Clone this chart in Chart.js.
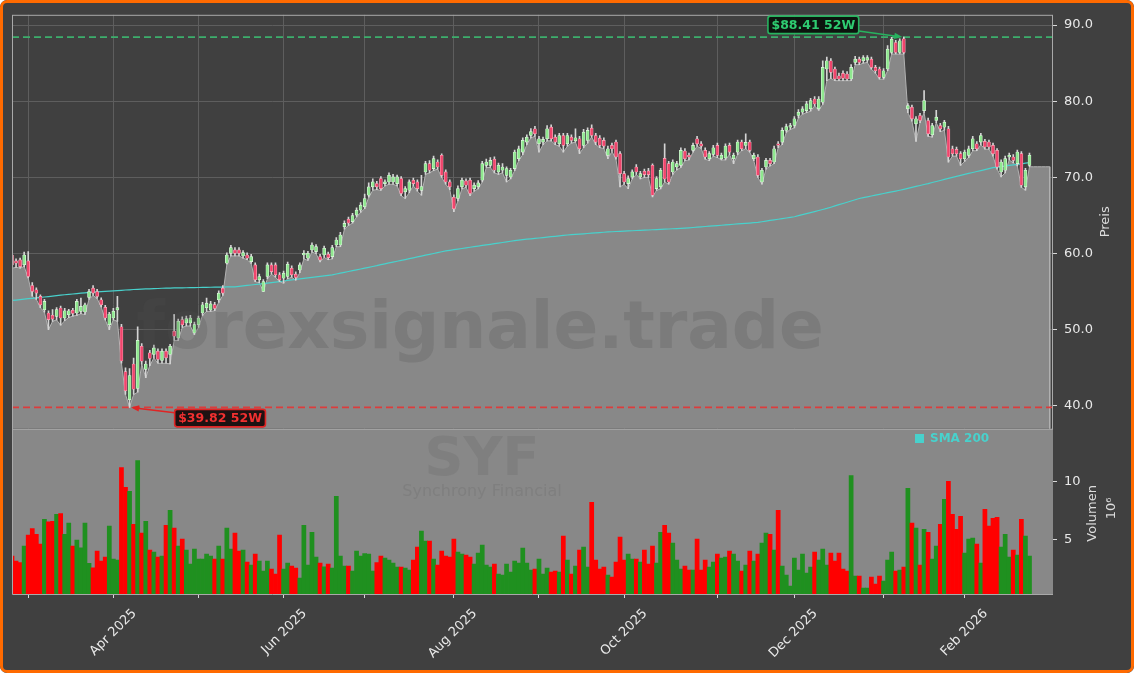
<!DOCTYPE html>
<html>
<head>
<meta charset="utf-8">
<script src="https://cdn.jsdelivr.net/npm/chart.js@4.4.1/dist/chart.umd.min.js"></script>
<style>
html,body{margin:0;padding:0;background:#ffffff;}
#wrap{position:relative;width:1134px;height:673px;background:#404040;border-radius:7px;overflow:hidden;}
#frame{position:absolute;left:0;top:0;width:1134px;height:673px;box-sizing:border-box;border:3px solid #ff6a00;border-radius:7px;pointer-events:none;}
canvas{position:absolute;left:0;top:0;}
</style>
</head>
<body>
<div id="wrap"><canvas id="c" width="1134" height="673"></canvas><div id="frame"></div></div>
<script>
// ---------- data ----------
const firstDate = '2025-02-25';
const holidays = ['2025-04-18','2025-05-26','2025-06-19','2025-07-04','2025-09-01','2025-11-27','2025-12-25','2026-01-01','2026-01-19','2026-02-16'];

const opens = [
59.82,59.04,59.17,58.52,59.04,55.81,55.25,54.38,52.64,52.20,
51.90,51.76,52.85,51.54,51.98,52.55,52.20,52.42,52.33,54.25,
55.47,55.03,53.94,52.94,50.67,51.54,52.60,50.40,44.50,40.80,
45.50,42.30,47.84,44.80,46.97,46.75,47.19,45.97,47.19,46.75,
49.80,48.93,51.33,50.89,50.89,49.58,50.67,52.20,52.90,52.60,
53.30,53.94,55.47,58.73,60.04,60.48,60.48,59.69,59.82,58.95,
58.52,56.56,55.03,56.99,58.52,58.52,57.21,56.77,56.99,58.08,
57.30,57.86,59.82,59.39,60.48,60.26,59.61,59.82,59.91,59.61,
61.13,61.13,63.53,64.50,64.20,65.06,65.71,66.14,67.67,68.76,
69.19,69.85,69.19,69.41,69.41,69.19,69.85,68.11,68.32,69.63,
69.41,68.30,70.72,71.81,71.16,72.03,72.90,70.72,69.41,67.40,
67.23,68.76,69.54,69.63,68.54,68.76,69.63,71.59,71.59,72.38,
70.72,70.94,70.28,70.07,71.16,72.46,73.33,74.64,75.51,76.38,
74.42,74.64,75.08,76.60,75.29,74.42,75.51,74.42,75.29,74.80,
75.08,74.21,74.86,76.47,75.51,75.16,74.86,72.90,74.21,74.64,
73.12,70.50,69.19,70.07,71.37,70.07,70.81,70.85,71.59,68.54,
68.76,72.50,71.81,70.72,71.37,71.59,73.46,72.90,73.55,75.08,
74.42,73.55,72.46,73.03,74.21,72.46,72.55,74.21,72.46,73.33,
74.64,74.20,74.64,72.46,72.68,69.41,71.37,72.24,72.03,74.42,
74.64,76.17,76.60,76.82,78.13,78.56,78.78,79.00,80.30,79.00,
79.87,84.23,85.32,84.23,83.35,83.66,83.57,82.92,85.10,85.53,
85.32,85.40,85.53,84.44,84.23,83.14,84.23,86.41,87.71,86.41,
88.20,79.00,79.22,77.04,78.13,78.78,77.47,75.60,77.47,76.82,
76.60,76.38,73.77,73.68,73.12,72.46,72.90,73.77,74.42,74.64,
74.73,74.64,74.21,73.55,70.72,70.94,72.68,72.68,71.81,73.12,
68.76,71.59];

const highs = [
60.10,59.30,59.40,60.20,60.26,56.20,55.50,54.60,54.00,52.50,
52.64,52.90,53.10,52.80,52.70,52.80,54.00,54.16,53.50,55.30,
55.80,55.30,54.20,53.20,52.30,52.80,54.38,50.70,45.00,44.90,
46.30,50.40,48.20,45.90,47.30,48.00,47.50,47.50,47.50,48.10,
51.98,51.40,51.70,51.80,51.90,51.00,51.80,53.60,54.16,53.72,
53.60,55.10,55.80,60.10,61.10,60.80,60.80,60.40,60.10,59.90,
58.80,57.30,56.60,58.80,58.80,58.80,57.50,57.70,58.90,58.40,
57.60,58.80,60.40,60.30,61.40,61.20,59.90,61.00,60.20,61.10,
62.10,62.80,64.30,64.80,65.30,66.00,66.70,67.80,69.30,69.80,
69.50,70.10,69.70,70.60,70.40,70.30,70.10,68.80,69.70,69.90,
69.70,70.28,72.10,72.20,72.80,72.30,73.10,71.00,69.70,67.70,
68.90,69.90,69.80,69.90,69.30,69.60,72.10,72.40,72.60,72.70,
71.90,71.81,71.40,71.20,73.60,74.10,75.20,75.60,76.40,76.70,
75.40,75.30,76.80,76.90,75.60,75.80,75.80,75.80,75.60,76.38,
75.40,76.30,76.50,76.90,75.80,75.50,75.20,74.10,74.50,74.90,
73.40,70.80,70.20,71.00,71.70,70.80,71.10,71.20,71.80,70.10,
71.20,74.42,72.10,72.30,72.10,73.90,73.80,73.20,74.50,75.40,
74.70,73.90,73.40,74.20,74.50,73.20,74.40,74.50,73.20,74.90,
74.90,75.73,74.90,73.20,73.00,71.20,72.50,72.50,74.10,74.70,
76.50,77.00,77.10,78.00,78.90,79.30,80.00,80.40,80.60,80.60,
85.30,85.80,85.60,84.50,83.70,84.00,83.90,84.80,85.90,85.80,
86.00,86.00,85.80,84.70,84.50,84.30,87.30,88.40,88.00,88.20,
88.41,79.70,79.50,78.00,78.40,81.39,77.80,77.10,78.80,77.10,
77.50,76.70,74.10,74.00,73.40,73.60,74.10,75.40,74.70,75.80,
75.00,74.90,74.50,73.80,72.30,72.80,73.20,73.00,73.60,73.40,
71.20,73.20];

const lows = [
58.08,58.20,58.10,58.30,56.80,54.40,54.00,52.90,52.30,50.02,
51.11,51.30,50.59,51.20,51.60,51.80,51.90,52.10,52.00,54.00,
54.50,54.10,53.00,51.30,50.02,51.30,51.11,45.60,41.50,39.82,
41.50,41.80,45.50,43.70,45.30,46.30,45.60,45.60,45.60,45.53,
48.60,48.60,50.30,50.50,50.50,49.37,50.30,51.90,52.42,52.42,
52.50,53.60,54.50,58.60,59.70,59.70,59.70,59.40,59.20,58.70,
56.30,56.20,55.00,56.70,57.30,56.90,56.30,56.12,56.70,56.90,
56.50,57.50,59.30,59.10,60.20,60.00,58.90,59.50,59.20,59.30,
60.90,60.90,63.20,63.70,64.00,64.80,65.40,65.90,67.40,68.32,
68.40,68.30,68.90,69.10,69.10,68.90,67.60,67.23,68.00,68.90,
68.20,67.67,70.40,70.60,70.90,71.10,70.00,69.10,68.40,65.49,
66.90,68.50,68.70,67.60,68.20,68.50,69.40,71.30,71.30,70.60,
70.40,70.60,69.41,69.80,70.90,72.20,73.00,74.30,75.20,75.40,
73.33,74.30,74.80,74.80,74.30,74.10,73.33,74.10,74.50,74.64,
73.12,73.90,74.50,75.30,74.30,73.90,73.80,72.46,73.40,72.40,
68.76,69.10,68.54,69.80,70.40,69.80,70.00,70.00,67.45,68.30,
68.50,69.41,69.10,70.40,71.00,71.30,72.20,72.30,73.30,74.10,
73.80,72.40,72.20,72.80,72.60,72.30,72.30,73.00,71.81,73.00,
73.50,73.77,73.30,72.20,70.00,69.10,71.10,71.50,71.80,73.90,
74.30,75.90,76.30,76.50,77.80,78.30,78.50,78.70,79.40,78.80,
79.60,82.70,83.00,82.70,82.70,82.70,82.70,82.70,84.80,84.80,
85.00,85.10,84.20,83.70,82.90,82.90,84.00,86.20,86.20,86.20,
86.20,78.50,77.40,74.73,77.20,78.50,75.40,75.30,77.20,76.00,
76.20,72.00,72.80,72.80,71.59,72.10,72.60,73.50,73.50,74.30,
73.70,73.70,72.80,71.10,70.07,70.60,72.30,71.90,71.50,68.70,
68.32,71.40];

const closes = [
58.52,58.73,58.30,59.82,56.99,55.03,54.81,53.29,53.72,51.33,
51.40,52.64,51.54,52.50,52.50,52.15,53.72,53.07,53.29,55.03,
54.81,54.38,53.29,51.54,52.07,52.42,52.90,45.90,42.00,44.00,
42.20,48.60,45.88,45.50,46.23,47.62,46.10,47.19,46.32,47.84,
49.15,51.11,50.67,51.46,51.54,50.67,51.54,53.29,53.50,53.40,
52.80,54.81,54.81,59.82,60.78,60.04,60.04,60.13,59.39,59.61,
56.56,56.99,56.34,58.52,57.64,57.21,56.56,57.43,58.60,57.21,
56.86,58.52,60.04,60.04,61.13,60.91,59.17,60.70,59.48,60.78,
61.78,62.44,63.96,64.00,65.00,65.71,66.36,67.23,68.76,69.41,
68.76,68.54,69.41,70.28,70.07,70.07,67.89,68.54,69.41,69.19,
68.54,68.80,71.81,70.94,72.46,71.37,70.28,69.41,68.76,65.90,
68.54,69.63,68.98,67.89,68.98,69.28,71.81,72.03,72.24,70.94,
71.59,71.37,71.16,70.94,73.33,73.77,74.86,75.29,76.03,75.73,
75.08,74.99,76.38,75.08,74.64,75.51,74.21,75.51,74.86,75.20,
73.77,75.95,76.17,75.51,74.64,74.21,74.12,73.77,73.77,72.68,
70.50,69.41,69.85,70.72,70.72,70.50,70.37,70.37,67.67,69.85,
70.94,69.80,69.41,72.03,71.81,73.55,72.46,72.68,74.21,74.42,
74.12,72.68,73.12,73.90,72.90,72.90,74.12,73.33,72.90,74.64,
73.77,74.60,73.55,72.90,70.28,70.94,72.24,71.81,73.77,74.21,
76.17,76.69,76.82,77.69,78.56,79.00,79.65,80.09,79.65,80.30,
84.44,85.32,83.79,82.92,82.92,83.01,82.92,84.44,85.53,85.10,
85.75,85.75,84.44,84.00,83.14,84.00,86.84,88.15,86.41,87.93,
86.41,79.43,77.69,77.69,77.47,80.09,75.73,76.82,77.91,76.38,
77.25,72.68,73.12,73.12,72.46,73.33,73.77,75.08,73.77,75.51,
73.99,73.99,73.12,71.37,72.03,72.46,72.90,72.24,73.33,68.98,
70.94,72.90];

// volume in millions
const volumes = [
3.57,3.14,3.00,4.42,5.37,5.94,5.45,4.59,6.74,6.51,
6.57,7.17,7.22,5.45,6.40,4.42,4.94,4.28,6.40,2.94,
2.56,3.99,3.14,3.48,6.14,3.31,3.22,11.20,9.48,9.14,
6.31,11.80,5.54,6.57,4.08,3.91,3.48,3.57,6.22,7.51,
5.97,4.42,5.02,4.08,2.88,4.17,3.31,3.31,3.74,3.57,
3.31,4.42,3.31,5.97,4.17,5.54,3.99,4.08,3.05,2.79,
3.74,3.14,2.28,3.14,2.45,2.02,5.37,2.45,2.96,2.71,
2.54,1.68,6.22,2.79,5.62,3.48,2.96,2.65,2.88,2.54,
8.71,3.57,2.71,2.71,2.28,3.99,3.57,3.79,3.74,2.28,
3.00,3.57,3.39,3.22,2.96,2.62,2.62,2.54,2.36,3.22,
4.34,5.71,4.85,4.85,3.31,2.79,3.99,3.57,3.48,5.02,
3.91,3.74,3.65,3.48,2.88,3.82,4.51,2.79,2.62,2.88,
2.02,1.94,2.88,2.19,3.14,2.96,4.25,2.96,2.36,2.45,
3.31,2.02,2.54,2.19,2.28,2.19,5.28,3.22,2.02,2.71,
4.08,4.34,2.62,8.20,3.22,2.45,2.62,1.94,1.76,3.05,
5.20,3.22,3.74,3.31,3.31,3.05,4.08,2.88,4.42,2.96,
5.62,6.22,5.54,4.68,3.22,2.45,2.71,2.36,2.36,5.02,
2.36,3.22,2.62,3.05,3.74,3.39,3.48,3.99,3.74,3.14,
2.28,2.79,3.99,3.14,3.74,4.68,5.54,5.45,4.08,7.51,
2.71,1.94,0.99,3.39,2.36,3.74,2.11,2.62,3.91,3.22,
4.17,2.79,3.82,3.14,3.82,2.45,2.28,10.51,1.85,1.85,
0.82,0.82,1.76,1.16,1.85,1.42,3.22,3.91,2.28,2.36,
2.62,9.40,6.40,5.97,2.79,5.88,5.62,3.31,4.42,6.31,
8.45,10.00,7.17,5.88,6.99,3.82,5.02,5.11,4.59,2.96,
7.60,6.14,6.82,6.91,4.34,5.45,3.48,4.08,3.65,6.74,
5.28,3.57];

const sma200 = [
53.85,53.90,53.96,54.02,54.08,54.13,54.19,54.25,
54.30,54.36,54.42,54.48,54.54,54.60,
54.65,54.70,54.75,54.80,54.85,54.90,54.94,
54.97,55.01,55.04,55.08,55.11,55.15,55.18,55.22,55.25,55.29,
55.31,55.33,55.36,55.38,55.40,55.42,55.45,55.47,
55.48,55.49,55.50,55.51,55.52,55.53,55.54,55.55,
55.56,55.57,55.58,55.59,55.60,55.61,55.62,55.63,55.64,
55.70,55.76,55.82,55.88,55.94,56.00,56.06,56.12,
56.19,56.26,56.33,56.40,56.48,56.55,56.62,56.69,
56.75,56.82,56.88,56.95,57.01,57.08,57.14,57.21,
57.32,57.43,57.54,57.65,57.76,57.87,57.98,58.09,58.20,58.31,58.42,58.55,
58.66,58.78,58.89,59.00,59.11,59.22,59.34,59.45,59.56,59.67,59.79,59.90,60.01,60.12,60.24,60.35,
60.43,60.51,60.59,60.67,60.75,60.83,60.91,60.99,61.07,61.15,61.22,61.30,61.38,61.46,61.54,61.62,61.70,61.78,
61.83,61.89,61.94,62.00,62.05,62.11,62.16,62.22,62.27,62.33,62.38,62.44,
62.48,62.52,62.56,62.60,62.64,62.68,62.72,62.76,62.80,62.84,62.87,
62.90,62.92,62.95,62.98,63.00,63.03,63.05,63.08,63.10,63.13,63.15,63.18,63.21,63.23,63.26,63.28,63.31,
63.35,63.39,63.43,63.48,63.52,63.56,63.60,63.64,63.68,63.72,63.77,63.81,63.85,63.89,63.93,63.97,64.01,64.06,64.10,
64.18,64.26,64.35,64.43,64.51,64.59,64.67,64.76,64.84,
64.98,65.11,65.25,65.38,65.52,65.66,65.79,65.93,
66.09,66.26,66.42,66.58,66.74,66.91,67.07,67.23,
67.34,67.45,67.56,67.67,67.78,67.89,68.00,68.10,68.21,68.32,
68.44,68.57,68.69,68.82,68.94,69.07,69.19,
69.33,69.46,69.60,69.74,69.87,70.01,70.14,70.28,
70.40,70.53,70.65,70.78,70.90,71.03,71.15,71.28,
71.35,71.42,71.50,71.57,71.65,71.72,71.79,71.87,71.94];

const tickLabels = ['', 'Apr 2025', '', 'Jun 2025', '', 'Aug 2025', '', 'Oct 2025', '', 'Dec 2025', '', 'Feb 2026'];
const priceTicks = [40, 50, 60, 70, 80, 90];
const volumeTicks = [5, 10];
const padSlots = 5;          // the low-price area is carried on past the last session
const symbol = 'SYF';
const companyName = 'Synchrony Financial';

// ---------- derived ----------
function tradingDays(start, n) {
  const out = [];
  const d = new Date(start + 'T00:00:00Z');
  while (out.length < n) {
    const dow = d.getUTCDay();
    const iso = d.toISOString().slice(0, 10);
    if (dow !== 0 && dow !== 6 && !holidays.includes(iso)) out.push(new Date(d.getTime()));
    d.setUTCDate(d.getUTCDate() + 1);
  }
  return out;
}
const dates = tradingDays(firstDate, closes.length);
const monthStarts = [];
for (let i = 1; i < dates.length; i++) {
  if (dates[i].getUTCMonth() !== dates[i - 1].getUTCMonth()) monthStarts.push(i);
}

const N = closes.length;
const xMin = 0, xMax = N - 1 + padSlots + 0.8;
const priceMin = 37.0, priceMax = 91.35;
const volMin = 0.3, volMax = 14.53;

const up = closes.map((c, i) => c >= opens[i]);
const ids = closes.map((_, i) => i);
const hi52 = Math.max(...highs), lo52 = Math.min(...lows);
const hiIdx = highs.indexOf(hi52), loIdx = lows.indexOf(lo52);

const areaData = lows.map((v, i) => ({x: i, y: v}));
for (let k = 1; k <= padSlots; k++) areaData.push({x: N - 1 + k, y: lows[N - 1]});
areaData.push({x: N - 1 + padSlots, y: priceMin});

Chart.defaults.font.family = '"DejaVu Sans", sans-serif';
Chart.defaults.font.size = 13;

function roundRect(ctx, x, y, w, h, r) {
  ctx.beginPath();
  ctx.moveTo(x + r, y);
  ctx.lineTo(x + w - r, y); ctx.quadraticCurveTo(x + w, y, x + w, y + r);
  ctx.lineTo(x + w, y + h - r); ctx.quadraticCurveTo(x + w, y + h, x + w - r, y + h);
  ctx.lineTo(x + r, y + h); ctx.quadraticCurveTo(x, y + h, x, y + h - r);
  ctx.lineTo(x, y + r); ctx.quadraticCurveTo(x, y, x + r, y);
  ctx.closePath();
}

function annotate(ctx, px, py, dx, dy, text, lineCol, textCol, fillCol) {
  ctx.save();
  ctx.font = 'bold 12.5px "DejaVu Sans"';
  const tw = ctx.measureText(text).width;
  const bw = tw + 7, bh = 17.5;
  const cx = px + dx, cy = py + dy;
  const ddx = px - cx, ddy = py - cy;
  const t = (bw / 2) / Math.abs(ddx);
  const sx = cx + ddx * t, sy = cy + ddy * t;
  const len = Math.hypot(px - sx, py - sy);
  const ux = (px - sx) / len, uy = (py - sy) / len;
  const ex = px - ux * 1.5, ey = py - uy * 1.5;
  ctx.strokeStyle = lineCol; ctx.lineWidth = 1.6;
  ctx.beginPath(); ctx.moveTo(sx, sy); ctx.lineTo(ex - ux * 6, ey - uy * 6); ctx.stroke();
  ctx.fillStyle = lineCol;
  ctx.beginPath();
  ctx.moveTo(ex, ey);
  ctx.lineTo(ex - ux * 8 - uy * 3.2, ey - uy * 8 + ux * 3.2);
  ctx.lineTo(ex - ux * 8 + uy * 3.2, ey - uy * 8 - ux * 3.2);
  ctx.closePath(); ctx.fill();
  roundRect(ctx, cx - bw / 2, cy - bh / 2, bw, bh, 2.5);
  ctx.fillStyle = fillCol; ctx.fill();
  ctx.lineWidth = 1.6; ctx.strokeStyle = lineCol; ctx.stroke();
  ctx.fillStyle = textCol; ctx.textAlign = 'center'; ctx.textBaseline = 'middle';
  ctx.fillText(text, cx, cy + 0.5);
  ctx.restore();
}

function rotText(ctx, text, x, y) {
  ctx.save(); ctx.translate(x, y); ctx.rotate(-Math.PI / 2); ctx.fillText(text, 0, 0); ctx.restore();
}

const panels = {
  id: 'panels',
  beforeDatasetsDraw(chart) {
    const {ctx, chartArea: a, scales} = chart;
    const yv = scales.yv;
    ctx.save();
    ctx.fillStyle = '#888888';
    ctx.fillRect(a.left, yv.top, a.right - a.left, yv.bottom - yv.top);
    ctx.restore();
  },
  afterDatasetsDraw(chart) {
    const {ctx, chartArea: a, scales} = chart;
    const y = scales.y, yv = scales.yv, x = scales.x;
    ctx.save();
    // watermarks
    ctx.textAlign = 'center'; ctx.textBaseline = 'alphabetic';
    ctx.fillStyle = 'rgba(78,78,78,0.22)';
    ctx.font = 'bold 66px "DejaVu Sans"';
    ctx.fillText('forexsignale.trade', 480, 348);
    ctx.fillStyle = 'rgba(78,78,78,0.16)';
    ctx.font = 'bold 54px "DejaVu Sans"';
    ctx.fillText(symbol, 482, 475);
    ctx.font = '16px "DejaVu Sans"';
    ctx.fillText(companyName, 482, 496);
    // spines
    ctx.strokeStyle = '#a9a9a9'; ctx.lineWidth = 1;
    ctx.strokeRect(a.left + 0.5, y.top + 0.5, a.right - a.left - 1, y.bottom - y.top);
    ctx.beginPath();
    ctx.moveTo(a.left + 0.5, yv.top); ctx.lineTo(a.left + 0.5, yv.bottom + 0.5);
    ctx.lineTo(a.right, yv.bottom + 0.5);
    ctx.stroke();
    // legend
    ctx.fillStyle = '#48d1cc';
    ctx.fillRect(915, 434, 9, 9);
    ctx.font = 'bold 12px "DejaVu Sans"'; ctx.textAlign = 'left'; ctx.textBaseline = 'middle';
    ctx.fillText('SMA 200', 930, 439);
    ctx.restore();
    // 52-week annotations
    const hx = x.getPixelForValue(hiIdx), hy = y.getPixelForValue(hi52);
    annotate(ctx, hx, hy, -90.5, -12.3, '$' + hi52.toFixed(2) + ' 52W', '#27b35f', '#2ecc71', 'rgba(8,16,10,0.92)');
    const lx = x.getPixelForValue(loIdx), ly = y.getPixelForValue(lo52);
    annotate(ctx, lx, ly, 90.5, 10.8, '$' + lo52.toFixed(2) + ' 52W', '#e02424', '#f03030', 'rgba(20,8,8,0.92)');
  },
  afterDraw(chart) {
    const {ctx, scales} = chart;
    const y = scales.y, yv = scales.yv;
    ctx.save();
    ctx.fillStyle = '#dcdcdc'; ctx.font = '13px "DejaVu Sans"';
    ctx.textAlign = 'center'; ctx.textBaseline = 'middle';
    rotText(ctx, 'Preis', y.left + 53, (y.top + y.bottom) / 2);
    rotText(ctx, 'Volumen', yv.left + 40, (yv.top + yv.bottom) / 2 + 2);
    rotText(ctx, '10\u2076', yv.left + 59, (yv.top + yv.bottom) / 2 - 3);
    ctx.restore();
  }
};

new Chart(document.getElementById('c'), {
  type: 'line',
  data: {
    datasets: [
      {
        type: 'bar', label: 'Kerzenkörper', yAxisID: 'y', order: 1, grouped: false,
        data: ids.map(i => ({x: i, y: [opens[i], closes[i]]})),
        barThickness: 3, minBarLength: 1, borderSkipped: false, borderWidth: 0.6,
        backgroundColor: up.map(u => u ? '#8fe88f' : '#f0456c'),
        borderColor: up.map(u => u ? '#e4fbe4' : '#ffb0c0')
      },
      {
        type: 'bar', label: 'Docht', yAxisID: 'y', order: 2, grouped: false,
        data: ids.map(i => ({x: i, y: [lows[i], highs[i]]})),
        barThickness: 1, backgroundColor: '#d4d4d4', borderWidth: 0
      },
      {
        type: 'line', label: '52W Hoch', yAxisID: 'y', order: 3,
        data: [{x: xMin, y: hi52}, {x: xMax, y: hi52}],
        borderColor: '#3cae6c', borderWidth: 1.7, borderDash: [7, 4], pointRadius: 0, fill: false
      },
      {
        type: 'line', label: '52W Tief', yAxisID: 'y', order: 3,
        data: [{x: xMin, y: lo52}, {x: xMax, y: lo52}],
        borderColor: '#dc3c3c', borderWidth: 1.7, borderDash: [7, 4], pointRadius: 0, fill: false
      },
      {
        type: 'line', label: 'SMA 200', yAxisID: 'y', order: 4,
        data: ids.map(i => ({x: i, y: sma200[i]})),
        borderColor: '#48d1cc', borderWidth: 1.2, pointRadius: 0, fill: false, tension: 0
      },
      {
        type: 'line', label: 'Tief', yAxisID: 'y', order: 6,
        data: areaData, fill: 'start',
        backgroundColor: '#888888', borderColor: '#b2b2b2', borderWidth: 1, pointRadius: 0, tension: 0
      },
      {
        type: 'bar', label: 'Volumen', yAxisID: 'yv', order: 7, grouped: false,
        data: ids.map(i => ({x: i, y: volumes[i]})),
        barPercentage: 1, categoryPercentage: 1, borderWidth: 0,
        backgroundColor: up.map(u => u ? '#1f901f' : '#ff0000')
      }
    ]
  },
  options: {
    responsive: false, animation: false, devicePixelRatio: 1,
    layout: {padding: {left: 12, top: 12, right: 0, bottom: 0}},
    plugins: {legend: {display: false}, tooltip: {enabled: false}},
    scales: {
      x: {
        type: 'linear', min: xMin, max: xMax, offset: false,
        afterBuildTicks: s => { s.ticks = monthStarts.map(v => ({value: v})); },
        afterFit: s => { s.height = 79; },
        grid: {color: '#5e5e5e', lineWidth: 1, drawOnChartArea: true, drawTicks: true, tickLength: 4, tickColor: '#d8d8d8', offset: false},
        border: {display: false},
        ticks: {autoSkip: false, maxRotation: 45, minRotation: 45, padding: 8, labelOffset: 21, color: '#e8e8e8',
                font: {size: 13}, callback: (v, i) => tickLabels[i] || ''}
      },
      y: {
        type: 'linear', position: 'right', stack: 'panels', stackWeight: 416, min: priceMin, max: priceMax,
        afterBuildTicks: s => { s.ticks = priceTicks.map(v => ({value: v})); },
        afterFit: s => { s.width = 81; },
        grid: {color: '#5e5e5e', lineWidth: 1, tickLength: 4, tickColor: '#d8d8d8'},
        border: {display: false},
        ticks: {padding: 7, color: '#e8e8e8', font: {size: 13}, callback: v => Number(v).toFixed(1)}
      },
      yv: {
        type: 'linear', position: 'right', stack: 'panels', stackWeight: 166, min: volMin, max: volMax,
        afterBuildTicks: s => { s.ticks = volumeTicks.map(v => ({value: v})); },
        afterFit: s => { s.width = 81; },
        grid: {drawOnChartArea: false, tickLength: 4, tickColor: '#d8d8d8'},
        border: {display: false},
        ticks: {padding: 7, color: '#e8e8e8', font: {size: 13}, callback: v => String(v)}
      }
    }
  },
  plugins: [panels]
});
</script>
</body>
</html>
